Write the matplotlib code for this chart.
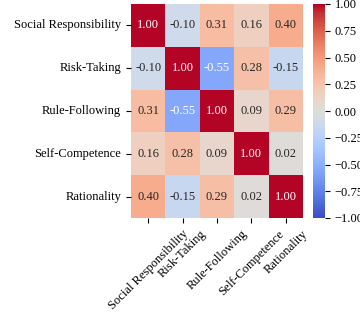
import matplotlib
matplotlib.use("Agg")
import matplotlib.pyplot as plt
import seaborn as sns
import numpy as np
import pandas as pd

labels = ["Social Responsibility", "Risk-Taking", "Rule-Following", "Self-Competence", "Rationality"]
row_social = [1.00, -0.10, 0.31, 0.16, 0.40]
row_risk = [-0.10, 1.00, -0.55, 0.28, -0.15]
row_rule = [0.31, -0.55, 1.00, 0.09, 0.29]
row_self = [0.16, 0.28, 0.09, 1.00, 0.02]
row_rat = [0.40, -0.15, 0.29, 0.02, 1.00]

corr = pd.DataFrame([row_social, row_risk, row_rule, row_self, row_rat], index=labels, columns=labels)

plt.rcParams['font.family'] = ['Liberation Serif', 'DejaVu Serif']
plt.rcParams['font.size'] = 9

fig = plt.figure(figsize=(3.6, 3.17), dpi=100)
ax = fig.add_axes([131/360, 1-218/317, 172/360, 214/317])
cax = fig.add_axes([313/360, 1-218/317, 12/360, 214/317])
sns.heatmap(corr, ax=ax, cbar_ax=cax, cmap="coolwarm", vmin=-1, vmax=1, annot=True, fmt=".2f",
            annot_kws={"fontsize": 9})
ax.set_xticklabels(labels, rotation=45)
ax.set_yticklabels(labels, rotation=0)
ax.tick_params(labelsize=9)
cax.tick_params(labelsize=9)
fig.savefig("out.png", dpi=100)
